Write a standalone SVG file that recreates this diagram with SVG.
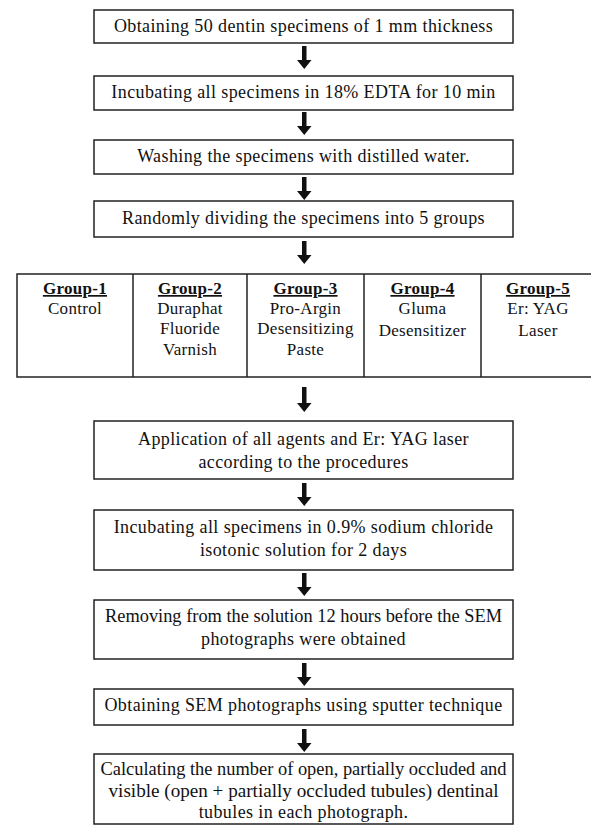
<svg xmlns="http://www.w3.org/2000/svg" width="591" height="826" viewBox="0 0 591 826">
<defs>
<style>
.box{fill:#fff;stroke:#222;stroke-width:1.5}
.t{font-family:"Liberation Serif","Times New Roman",serif;font-size:18px;fill:#111;text-anchor:middle;letter-spacing:0.4px}
.s{font-size:17px;letter-spacing:0.3px}
.h{font-weight:bold;text-decoration:underline}
.arr{fill:#111}
.div{stroke:#222;stroke-width:1.5}
</style>
</defs>
<rect width="591" height="826" fill="#fff"/>
<g id="connectors">
<path class="arr" d="M302,46 h4.5 v14 h5 l-7.25,9 l-7.25,-9 h5 z"/>
<path class="arr" d="M302,112 h4.5 v14 h5 l-7.25,9 l-7.25,-9 h5 z"/>
<path class="arr" d="M302,177 h4.5 v14 h5 l-7.25,9 l-7.25,-9 h5 z"/>
<path class="arr" d="M302,241 h4.5 v14 h5 l-7.25,9 l-7.25,-9 h5 z"/>
<path class="arr" d="M302,387 h4.5 v16 h5 l-7.25,9 l-7.25,-9 h5 z"/>
<path class="arr" d="M302,483 h4.5 v14 h5 l-7.25,9 l-7.25,-9 h5 z"/>
<path class="arr" d="M302,573 h4.5 v14 h5 l-7.25,9 l-7.25,-9 h5 z"/>
<path class="arr" d="M302,663 h4.5 v14 h5 l-7.25,9 l-7.25,-9 h5 z"/>
<path class="arr" d="M302,729 h4.5 v14 h5 l-7.25,9 l-7.25,-9 h5 z"/>
</g>
<g id="n1"><rect class="box" x="94" y="10" width="419" height="33"/><text class="t" x="303.5" y="32">Obtaining 50 dentin specimens of 1 mm thickness</text></g>
<g id="n2"><rect class="box" x="94" y="76" width="419" height="34"/><text class="t" x="303.5" y="98">Incubating all specimens in 18% EDTA for 10 min</text></g>
<g id="n3"><rect class="box" x="94" y="140" width="419" height="34"/><text class="t" x="303.5" y="162">Washing the specimens with distilled water.</text></g>
<g id="n4"><rect class="box" x="94" y="201" width="419" height="36"/><text class="t" x="303.5" y="224">Randomly dividing the specimens into 5 groups</text></g>
<g id="groups">
<rect class="box" x="17" y="274" width="581" height="103"/>
<line class="div" x1="133" y1="274" x2="133" y2="377"/>
<line class="div" x1="247" y1="274" x2="247" y2="377"/>
<line class="div" x1="364" y1="274" x2="364" y2="377"/>
<line class="div" x1="481" y1="274" x2="481" y2="377"/>
<g id="g1"><text class="t s h" x="75" y="294">Group-1</text><text class="t s" x="75" y="314">Control</text></g>
<g id="g2"><text class="t s h" x="190" y="294">Group-2</text><text class="t s" x="190" y="314">Duraphat</text><text class="t s" x="190" y="334">Fluoride</text><text class="t s" x="190" y="355">Varnish</text></g>
<g id="g3"><text class="t s h" x="305.5" y="294">Group-3</text><text class="t s" x="305.5" y="314">Pro-Argin</text><text class="t s" x="305.5" y="334">Desensitizing</text><text class="t s" x="305.5" y="355">Paste</text></g>
<g id="g4"><text class="t s h" x="422.5" y="294">Group-4</text><text class="t s" x="422.5" y="314">Gluma</text><text class="t s" x="422.5" y="336">Desensitizer</text></g>
<g id="g5"><text class="t s h" x="538" y="294">Group-5</text><text class="t s" x="538" y="314">Er: YAG</text><text class="t s" x="538" y="336">Laser</text></g>
</g>
<g id="n5"><rect class="box" x="94" y="421" width="419" height="58"/><text class="t" x="303.5" y="445">Application of all agents and Er: YAG laser</text><text class="t" x="303.5" y="468">according to the procedures</text></g>
<g id="n6"><rect class="box" x="94" y="510" width="419" height="60"/><text class="t" x="303.5" y="533">Incubating all specimens in 0.9% sodium chloride</text><text class="t" x="303.5" y="556">isotonic solution for 2 days</text></g>
<g id="n7"><rect class="box" x="94" y="600" width="419" height="59"/><text class="t" x="303.5" y="622" style="letter-spacing:0" textLength="397" lengthAdjust="spacingAndGlyphs">Removing from the solution 12 hours before the SEM</text><text class="t" x="303.5" y="645">photographs were obtained</text></g>
<g id="n8"><rect class="box" x="94" y="689" width="419" height="36"/><text class="t" x="303.5" y="711">Obtaining SEM photographs using sputter technique</text></g>
<g id="n9"><rect class="box" x="94" y="754" width="419" height="70"/><text class="t" x="303.5" y="775" style="letter-spacing:0" textLength="406" lengthAdjust="spacingAndGlyphs">Calculating the number of open, partially occluded and</text><text class="t" x="303.5" y="797" style="letter-spacing:0" textLength="390" lengthAdjust="spacingAndGlyphs">visible (open + partially occluded tubules) dentinal</text><text class="t" x="303.5" y="818">tubules in each photograph.</text></g>
</svg>
